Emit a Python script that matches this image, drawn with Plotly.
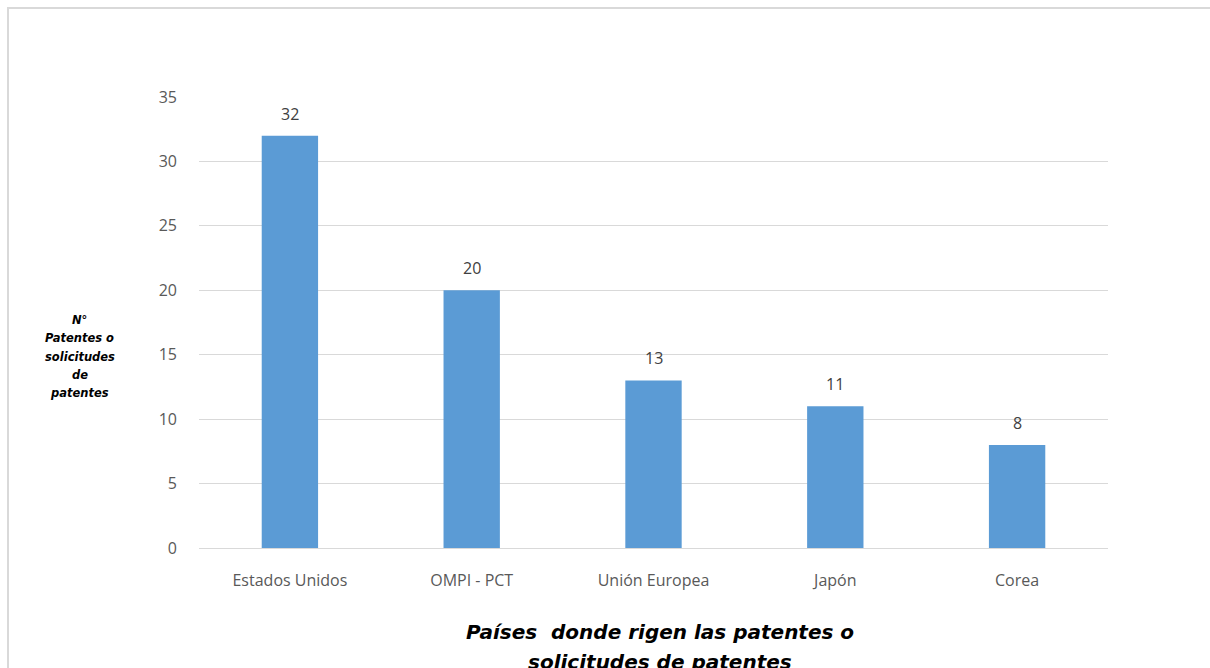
import plotly.graph_objects as go

# Patent counts by jurisdiction
categories = ["Estados Unidos", "OMPI - PCT", "Unión Europea", "Japón", "Corea"]
values = [32, 20, 13, 11, 8]
y_ticks = [0, 5, 10, 15, 20, 25, 30, 35]
y_title_lines = ["N°", "Patentes o", "solicitudes", "de", "patentes"]
x_title_lines = ["Países  donde rigen las patentes o", "solicitudes de patentes"]

W, H = 1210, 668
L, R, T, B = 199, 102, 97, 120
plot_w = W - L - R
plot_h = H - T - B

TICK_FONT = "Open Sans, Liberation Sans, sans-serif"
TITLE_FONT = "DejaVu Sans, Verdana, sans-serif"


def px_x(px):
    return (px - L) / plot_w


def px_y(py):
    return (H - B - py) / plot_h


fig = go.Figure(
    go.Bar(
        x=categories,
        y=values,
        marker=dict(color="#5B9BD5", line=dict(width=0)),
        width=0.31,
        hoverinfo="x+y",
    )
)

annotations = []

# value labels above each bar
for cat, val in zip(categories, values):
    annotations.append(
        dict(
            x=cat,
            y=val,
            xref="x",
            yref="y",
            text=str(val),
            showarrow=False,
            xanchor="center",
            yanchor="bottom",
            yshift=9,
            font=dict(family=TICK_FONT, size=16, color="#404040"),
        )
    )

# y-axis title, one line per annotation for wider line spacing
for i, line in enumerate(y_title_lines):
    annotations.append(
        dict(
            text=line,
            xref="paper",
            yref="paper",
            x=px_x(79.5),
            y=px_y(320 + i * 18.3),
            xanchor="center",
            yanchor="middle",
            showarrow=False,
            font=dict(family=TITLE_FONT, size=11.5, color="#000000", weight="bold", style="italic"),
        )
    )

# x-axis title
for i, line in enumerate(x_title_lines):
    annotations.append(
        dict(
            text=line,
            xref="paper",
            yref="paper",
            x=px_x(660),
            y=px_y(632 + i * 30),
            xanchor="center",
            yanchor="middle",
            showarrow=False,
            font=dict(family=TITLE_FONT, size=20, color="#000000", weight="bold", style="italic"),
        )
    )

fig.update_layout(
    width=W,
    height=H,
    margin=dict(l=L, r=R, t=T, b=B, pad=0),
    paper_bgcolor="white",
    plot_bgcolor="white",
    showlegend=False,
    font=dict(family=TICK_FONT, color="#595959", size=16),
    xaxis=dict(
        showgrid=False,
        showline=True,
        linecolor="#d9d9d9",
        linewidth=1,
        ticks="",
        tickfont=dict(size=16, color="#595959"),
        ticklabelstandoff=18,
    ),
    yaxis=dict(
        range=[0, 35],
        tickvals=y_ticks,
        showgrid=True,
        gridcolor="#d9d9d9",
        gridwidth=1,
        zeroline=False,
        showline=False,
        ticks="",
        tickfont=dict(size=16, color="#595959"),
        ticklabelstandoff=21,
    ),
    shapes=[
        dict(
            type="rect",
            xref="paper",
            yref="paper",
            x0=px_x(8),
            x1=px_x(1230),
            y0=px_y(700),
            y1=px_y(8),
            line=dict(color="#d9d9d9", width=2),
            fillcolor="rgba(0,0,0,0)",
            layer="below",
        )
    ],
    annotations=annotations,
)

fig.write_html("out.html")
